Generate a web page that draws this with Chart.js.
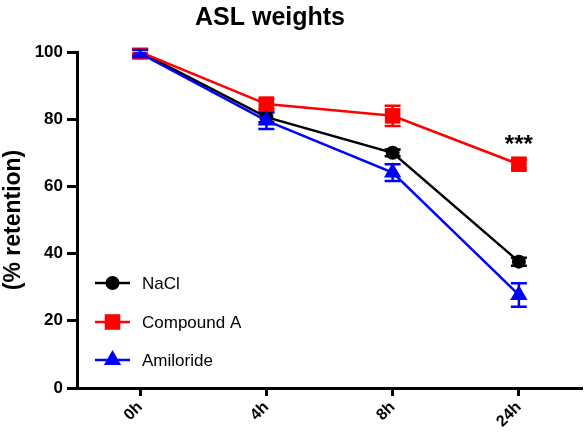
<!DOCTYPE html>
<html>
<head>
<meta charset="utf-8">
<script src="https://cdn.jsdelivr.net/npm/chart.js@4/dist/chart.umd.min.js"></script>
<style>
  html, body { margin: 0; padding: 0; background: #fff; }
  #wrap { width: 586px; height: 443px; }
</style>
</head>
<body>
<div id="wrap"><canvas id="chart" width="586" height="443"></canvas></div>
<script>
const timepoints = ['0h', '4h', '8h', '24h'];
const naclValues = [100, 80.6, 70.0, 37.6];
const naclErr = [0.8, 1.5, 1.0, 1.2];
const compoundValues = [100, 84.5, 81.0, 66.6];
const compoundErr = [1.0, 1.5, 3.0, 1.3];
const amilorideValues = [99.6, 79.6, 64.1, 27.7];
const amilorideErr = [1.0, 2.5, 2.5, 3.5];
const yTicks = [0, 20, 40, 60, 80, 100];

const FONT = '"Liberation Sans", Arial, sans-serif';

// error bars, legend, title and significance marks
const extras = {
  id: 'extras',
  beforeDatasetsDraw(chart) {
    const { ctx } = chart;
    const x = chart.scales.x;
    const y = chart.scales.y;
    chart.data.datasets.forEach((ds) => {
      ctx.save();
      ctx.strokeStyle = ds.borderColor;
      ctx.lineWidth = 2.5;
      ds.data.forEach((v, i) => {
        const px = x.getPixelForValue(i);
        const top = y.getPixelForValue(v + ds.errors[i]);
        const bot = y.getPixelForValue(v - ds.errors[i]);
        ctx.beginPath();
        ctx.moveTo(px, top); ctx.lineTo(px, bot);
        ctx.moveTo(px - 8, top); ctx.lineTo(px + 8, top);
        ctx.moveTo(px - 8, bot); ctx.lineTo(px + 8, bot);
        ctx.stroke();
      });
      ctx.restore();
    });
  },
  afterDraw(chart) {
    const { ctx } = chart;
    ctx.save();
    // title
    ctx.fillStyle = '#000';
    ctx.font = 'bold 25px ' + FONT;
    ctx.textAlign = 'center';
    ctx.textBaseline = 'alphabetic';
    ctx.fillText('ASL weights', 270, 25);

    // significance mark above compound A at 24h
    const x = chart.scales.x;
    const y = chart.scales.y;
    ctx.font = 'bold 24px ' + FONT;
    ctx.fillText('***', x.getPixelForValue(3), y.getPixelForValue(compoundValues[3]) - 12);

    // legend inside plot
    const rows = [283, 322, 360];
    ctx.textAlign = 'left';
    ctx.textBaseline = 'middle';
    ctx.font = '17px ' + FONT;
    chart.data.datasets.forEach((ds, i) => {
      const ly = rows[i];
      ctx.strokeStyle = ds.borderColor;
      ctx.lineWidth = 2.5;
      ctx.beginPath();
      ctx.moveTo(95, ly); ctx.lineTo(130, ly);
      ctx.stroke();
      ctx.fillStyle = ds.borderColor;
      Chart.helpers.drawPoint(ctx, {
        pointStyle: ds.pointStyle, radius: ds.pointRadius, rotation: 0, borderWidth: 0,
      }, 112.5, ly);
      ctx.fillStyle = '#000';
      ctx.fillText(ds.label, 142, ly + 1);
    });
    ctx.restore();
  },
};

new Chart(document.getElementById('chart'), {
  type: 'line',
  data: {
    labels: timepoints,
    datasets: [
      {
        label: 'NaCl', data: naclValues, errors: naclErr,
        borderColor: '#000000', backgroundColor: '#000000',
        pointStyle: 'circle', pointRadius: 7, order: 3,
      },
      {
        label: 'Compound A', data: compoundValues, errors: compoundErr,
        borderColor: '#ff0000', backgroundColor: '#ff0000',
        pointStyle: 'rect', pointRadius: 11, order: 2,
      },
      {
        label: 'Amiloride', data: amilorideValues, errors: amilorideErr,
        borderColor: '#0000ff', backgroundColor: '#0000ff',
        pointStyle: 'triangle', pointRadius: 10, order: 1,
      },
    ],
  },
  options: {
    responsive: false,
    animation: false,
    layout: { autoPadding: false, padding: { top: 52, right: 4, left: 0, bottom: 0 } },
    elements: {
      line: { borderWidth: 2.5, tension: 0 },
      point: { borderWidth: 0 },
    },
    plugins: {
      legend: { display: false },
      title: { display: false },
      tooltip: { enabled: false },
    },
    scales: {
      x: {
        offset: true,
        afterFit(scale) {
          scale.height = 55;
          scale.paddingLeft = 0;
          scale.paddingRight = 0;
        },
        grid: {
          drawOnChartArea: false, drawTicks: true, tickLength: 8,
          tickWidth: 3, tickColor: '#000', offset: false,
        },
        border: { display: true, color: '#000', width: 3 },
        ticks: {
          color: '#000', maxRotation: 45, minRotation: 45, padding: 2,
          font: { family: FONT, size: 16, weight: 'bold' },
        },
      },
      y: {
        min: 0, max: 100,
        afterFit(scale) { scale.width = 77; },
        afterBuildTicks(scale) { scale.ticks = yTicks.map((v) => ({ value: v })); },
        grid: {
          drawOnChartArea: false, drawTicks: true, tickLength: 10,
          tickWidth: 3, tickColor: '#000',
        },
        border: { display: true, color: '#000', width: 3 },
        ticks: {
          color: '#000', padding: 4,
          font: { family: FONT, size: 17, weight: 'bold' },
        },
        title: {
          display: true, text: '(% retention)', color: '#000',
          font: { family: FONT, size: 23, weight: 'bold' },
          padding: { top: 0, bottom: 0 },
        },
      },
    },
  },
  plugins: [extras],
});
</script>
</body>
</html>
